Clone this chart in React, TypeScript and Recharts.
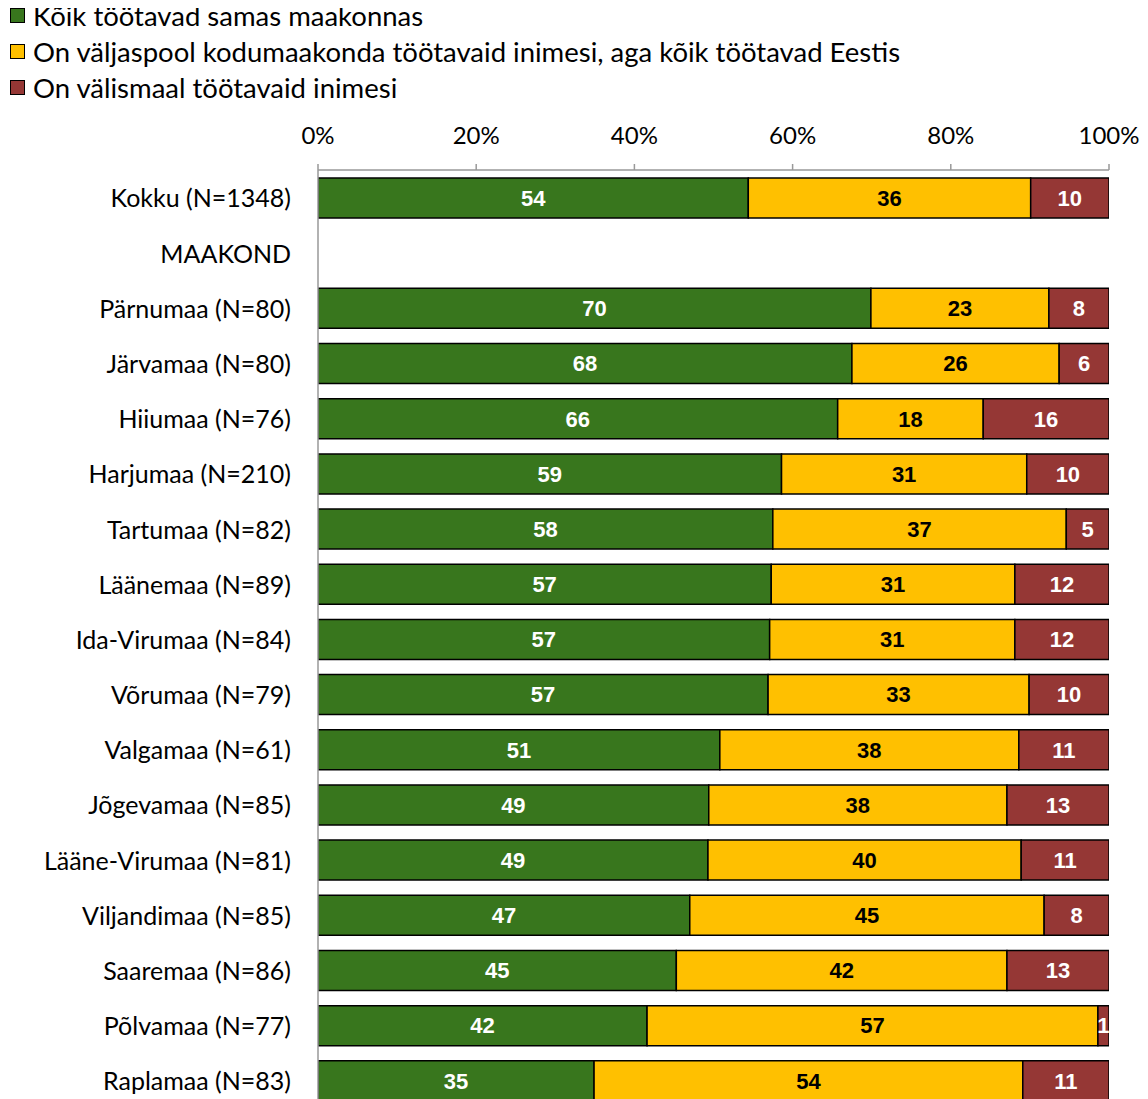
import { BarChart, Bar, XAxis, YAxis, LabelList } from "recharts";

const categories = [
  "Kokku (N=1348)",
  "MAAKOND",
  "Pärnumaa (N=80)",
  "Järvamaa (N=80)",
  "Hiiumaa (N=76)",
  "Harjumaa (N=210)",
  "Tartumaa (N=82)",
  "Läänemaa (N=89)",
  "Ida-Virumaa (N=84)",
  "Võrumaa (N=79)",
  "Valgamaa (N=61)",
  "Jõgevamaa (N=85)",
  "Lääne-Virumaa (N=81)",
  "Viljandimaa (N=85)",
  "Saaremaa (N=86)",
  "Põlvamaa (N=77)",
  "Raplamaa (N=83)",
];

const sameCounty = [54.4, null, 69.9, 67.5, 65.7, 58.6, 57.5, 57.3, 57.1, 56.9, 50.8, 49.4, 49.3, 47.0, 45.3, 41.6, 34.9];
const otherCounty = [35.7, null, 22.5, 26.2, 18.4, 31.0, 37.1, 30.8, 31.0, 33.0, 37.8, 37.7, 39.6, 44.8, 41.8, 57.0, 54.2];
const abroad = [9.9, null, 7.6, 6.3, 15.9, 10.4, 5.4, 11.9, 11.9, 10.1, 11.4, 12.9, 11.1, 8.2, 12.9, 1.4, 10.9];

const xTicks = [0, 20, 40, 60, 80, 100];

const series = [
  { key: "same", name: "Kõik töötavad samas maakonnas", color: "#38761D", text: "#fff" },
  { key: "other", name: "On väljaspool kodumaakonda töötavaid inimesi, aga kõik töötavad Eestis", color: "#FFC000", text: "#000" },
  { key: "abroad", name: "On välismaal töötavaid inimesi", color: "#953735", text: "#fff" },
];

const data = categories.map((name, i) => ({
  name,
  same: sameCounty[i],
  other: otherCounty[i],
  abroad: abroad[i],
}));

const FONT = "Lato, 'Noto Sans', sans-serif";

function fmt(v: any) {
  if (v === null || v === undefined) return "";
  return String(Math.round(v));
}

export default function App() {
  return (
    <div style={{ position: "relative", width: 1140, height: 1120, fontFamily: FONT }}>
      <div style={{ position: "absolute", left: 2, top: -11, zIndex: 2 }}>
        {series.map((s) => (
          <div key={s.key} style={{ display: "flex", alignItems: "center", height: 36, fontSize: 27.5, color: "#000" }}>
            <span
              style={{
                display: "inline-block",
                width: 13,
                height: 13,
                background: s.color,
                border: "1.5px solid #000",
                marginRight: 8,
              }}
            />
            <span>{s.name}</span>
          </div>
        ))}
      </div>
      <BarChart
        width={1140}
        height={1120}
        data={data}
        layout="vertical"
        margin={{ top: 132, right: 39, bottom: 20, left: 0 }}
        barSize={40}
      >
        <XAxis
          type="number"
          orientation="top"
          domain={[0, 100]}
          ticks={xTicks}
          tickFormatter={(v) => `${v}%`}
          height={30}
          axisLine={{ stroke: "#999", strokeWidth: 1.5 }}
          tickLine={{ stroke: "#999", strokeWidth: 1.5 }}
          tickSize={6}
          tickMargin={20}
          tick={{ fill: "#000", fontSize: 24, fontFamily: FONT }}
          allowDataOverflow
        />
        <YAxis
          type="category"
          dataKey="name"
          width={310}
          axisLine={{ stroke: "#999", strokeWidth: 1.5 }}
          tickLine={false}
          tickSize={0}
          tickMargin={27}
          interval={0}
          tick={{ fill: "#000", fontSize: 25, fontFamily: FONT, dy: 1 }}
        />
        {series.map((s) => (
          <Bar
            key={s.key}
            dataKey={s.key}
            name={s.name}
            stackId="a"
            fill={s.color}
            stroke="#000"
            strokeWidth={1.5}
            isAnimationActive={false}
          >
            <LabelList
              dataKey={s.key}
              position="center"
              formatter={fmt}
              fill={s.text}
              style={{ fontFamily: "'Liberation Sans', Arial, sans-serif", fontWeight: 700, fontSize: 22 }}
            />
          </Bar>
        ))}
      </BarChart>
    </div>
  );
}
